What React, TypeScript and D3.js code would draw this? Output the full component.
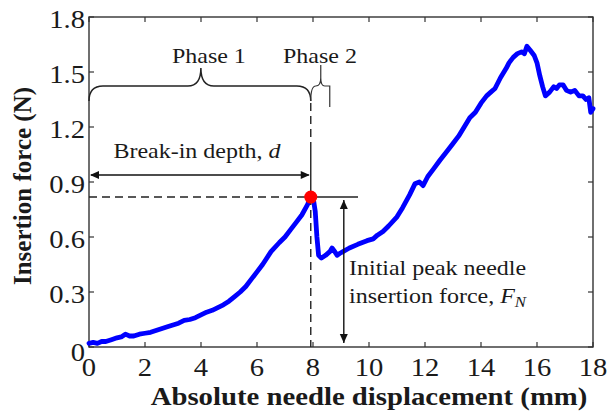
import React from 'react';
import * as d3 from 'd3';

const xValues = [0, 0.15, 0.3, 0.45, 0.6, 0.8, 1.0, 1.15, 1.3, 1.45, 1.6, 1.8, 2.0, 2.2, 2.5, 2.8, 3.0, 3.2, 3.4, 3.6, 3.8, 4.0, 4.2, 4.4, 4.6, 4.8, 5.0, 5.2, 5.4, 5.6, 5.8, 6.0, 6.2, 6.5, 6.8, 7.0, 7.2, 7.4, 7.6, 7.8, 7.92, 8.02, 8.08, 8.14, 8.2, 8.3, 8.45, 8.6, 8.68, 8.78, 8.86, 8.95, 9.07, 9.3, 9.6, 9.93, 10.15, 10.3, 10.5, 10.7, 11.0, 11.2, 11.45, 11.64, 11.8, 11.93, 12.1, 12.3, 12.54, 12.8, 13.0, 13.2, 13.4, 13.6, 13.8, 14.0, 14.2, 14.35, 14.5, 14.7, 14.9, 15.0, 15.15, 15.3, 15.45, 15.55, 15.64, 15.75, 15.9, 16.0, 16.1, 16.2, 16.3, 16.45, 16.6, 16.7, 16.8, 16.93, 17.05, 17.2, 17.35, 17.5, 17.64, 17.75, 17.85, 17.92, 18.0];
const yValues = [0.02, 0.025, 0.02, 0.03, 0.03, 0.04, 0.05, 0.055, 0.07, 0.06, 0.06, 0.07, 0.075, 0.08, 0.095, 0.11, 0.12, 0.13, 0.145, 0.15, 0.16, 0.175, 0.19, 0.2, 0.215, 0.23, 0.25, 0.275, 0.3, 0.33, 0.37, 0.41, 0.45, 0.52, 0.57, 0.6, 0.64, 0.68, 0.72, 0.775, 0.818, 0.8, 0.74, 0.6, 0.5, 0.485, 0.5, 0.52, 0.54, 0.52, 0.5, 0.51, 0.52, 0.54, 0.56, 0.58, 0.59, 0.61, 0.63, 0.66, 0.71, 0.76, 0.83, 0.89, 0.9, 0.88, 0.93, 0.97, 1.02, 1.07, 1.11, 1.15, 1.2, 1.25, 1.28, 1.33, 1.37, 1.39, 1.41, 1.47, 1.52, 1.55, 1.58, 1.6, 1.61, 1.6, 1.64, 1.62, 1.59, 1.55, 1.48, 1.42, 1.37, 1.39, 1.42, 1.41, 1.43, 1.43, 1.4, 1.39, 1.4, 1.37, 1.37, 1.35, 1.36, 1.28, 1.3];

const xTicks = [0, 2, 4, 6, 8, 10, 12, 14, 16, 18];
const yTicks = [0, 0.3, 0.6, 0.9, 1.2, 1.5, 1.8];
const yTickLabels = ['0', '0.3', '0.6', '0.9', '1.2', '1.5', '1.8'];
const peakX = 7.92;
const peakY = 0.818;
const xTitle = 'Absolute needle displacement (mm)';
const yTitle = 'Insertion force (N)';

const FONT = '"Liberation Serif", "Times New Roman", serif';

function T({ x, y, sx = 1.2, size = 20, anchor = 'start', weight = 'normal', rotate = 0, children }: any) {
  return (
    <text
      transform={`translate(${x},${y}) rotate(${rotate}) scale(${sx},1)`}
      fontSize={size}
      textAnchor={anchor}
      fontWeight={weight}
      fontFamily={FONT}
      fill="#1a1a1a"
    >
      {children}
    </text>
  );
}

function arrowHead(x: number, y: number, dir: 'l' | 'r' | 'u' | 'd') {
  const L = 9, W = 4;
  let pts: number[][] = [];
  if (dir === 'l') pts = [[x, y], [x + L, y - W], [x + L, y + W]];
  if (dir === 'r') pts = [[x, y], [x - L, y - W], [x - L, y + W]];
  if (dir === 'u') pts = [[x, y], [x - W, y + L], [x + W, y + L]];
  if (dir === 'd') pts = [[x, y], [x - W, y - L], [x + W, y - L]];
  return <polygon points={pts.map((p) => p.join(',')).join(' ')} fill="#111" />;
}

export default function App() {
  const x = d3.scaleLinear().domain([0, 18]).range([89, 593]);
  const y = d3.scaleLinear().domain([0, 1.8]).range([347, 17]);
  const data = xValues.map((v, i) => [v, yValues[i]] as [number, number]);
  const line = d3.line<[number, number]>().x((d) => x(d[0])).y((d) => y(d[1]));

  const px = x(peakX);
  const py = y(peakY);
  const x0 = x(0), x1 = x(18), y0 = y(0), y1 = y(1.8);
  const tl = 5;

  const braceTop = 86;
  const b1mid = (x0 + px) / 2 + 1;
  const brace1 = `M ${x0} 101 Q ${x0} ${braceTop} ${x0 + 14} ${braceTop} L ${b1mid - 13} ${braceTop} Q ${b1mid} ${braceTop} ${b1mid} 68 Q ${b1mid} ${braceTop} ${b1mid + 13} ${braceTop} L ${px - 14} ${braceTop} Q ${px} ${braceTop} ${px} 101`;
  const b2tip = px + 10;
  const b2right = px + 19;
  const brace2 = `M ${px} 101 Q ${px} ${braceTop} ${px + 5} ${braceTop} Q ${b2tip} ${braceTop} ${b2tip} 78 L ${b2tip} 65 M ${b2tip} 78 Q ${b2tip} ${braceTop} ${b2tip + 4} ${braceTop} L ${b2right} ${braceTop} L ${b2right} 107`;

  const arrowX = x(9.1);

  return (
    <svg width={607} height={414} style={{ position: 'absolute', left: 0, top: 0, background: '#fff' }}>
      {/* axes box */}
      <rect x={x0} y={y1} width={x1 - x0} height={y0 - y1} fill="none" stroke="#333" strokeWidth={1.4} />
      {xTicks.map((t) => (
        <g key={'xt' + t}>
          <line x1={x(t)} x2={x(t)} y1={y0} y2={y0 - tl} stroke="#333" strokeWidth={1.2} />
          <line x1={x(t)} x2={x(t)} y1={y1} y2={y1 + tl} stroke="#333" strokeWidth={1.2} />
          <T x={x(t)} y={376} size={26} sx={1.1} anchor="middle">{String(t)}</T>
        </g>
      ))}
      {yTicks.map((t, i) => (
        <g key={'yt' + t}>
          <line x1={x0} x2={x0 + tl} y1={y(t)} y2={y(t)} stroke="#333" strokeWidth={1.2} />
          <line x1={x1} x2={x1 - tl} y1={y(t)} y2={y(t)} stroke="#333" strokeWidth={1.2} />
          <T x={85} y={y(t) + 11 + (i === 0 ? 3 : 0)} size={26} sx={1.1} anchor="end">{yTickLabels[i]}</T>
        </g>
      ))}

      {/* titles */}
      <T x={369} y={405} size={25} sx={1.15} anchor="middle" weight="bold">{xTitle}</T>
      <T x={31} y={186} size={25} sx={1} anchor="middle" weight="bold" rotate={-90}>{yTitle}</T>

      {/* curve */}
      <path d={line(data) || ''} fill="none" stroke="#0000ff" strokeWidth={4.8} strokeLinejoin="round" strokeLinecap="round" />

      {/* dashed guides */}
      <line x1={x0} x2={px} y1={py} y2={py} stroke="#222" strokeWidth={1.4} strokeDasharray="8,5" />
      <line x1={px} x2={358} y1={py} y2={py} stroke="#222" strokeWidth={1.4} />
      <line x1={px} x2={px} y1={py} y2={y0} stroke="#222" strokeWidth={1.4} strokeDasharray="8,5" />
      <line x1={px} x2={px} y1={103} y2={143} stroke="#222" strokeWidth={1.4} strokeDasharray="8,5" />
      <line x1={px} x2={px} y1={143} y2={py} stroke="#222" strokeWidth={1.4} />

      {/* braces */}
      <path d={brace1} fill="none" stroke="#222" strokeWidth={1.5} />
      <path d={brace2} fill="none" stroke="#333" strokeWidth={1.2} />
      <T x={b1mid + 8} y={63} anchor="middle">Phase 1</T>
      <T x={320} y={63} anchor="middle">Phase 2</T>

      {/* break-in depth arrow */}
      <line x1={x0 + 2} x2={px - 2} y1={175} y2={175} stroke="#111" strokeWidth={1.4} />
      {arrowHead(x0 + 1, 175, 'l')}
      {arrowHead(px - 1, 175, 'r')}
      <T x={197} y={158} anchor="middle">Break-in depth, <tspan fontStyle="italic">d</tspan></T>

      {/* peak force arrow */}
      <line x1={arrowX} x2={arrowX} y1={py + 3} y2={y0 - 4} stroke="#111" strokeWidth={1.4} />
      {arrowHead(arrowX, py + 3, 'u')}
      {arrowHead(arrowX, y0 - 4, 'd')}
      <T x={349} y={275}>Initial peak needle</T>
      <T x={349} y={303}>
        insertion force, <tspan fontStyle="italic">F</tspan>
        <tspan fontStyle="italic" fontSize={14} dy={4}>N</tspan>
      </T>

      {/* peak dot */}
      <circle cx={px} cy={py} r={6.5} fill="#ff0000" />
    </svg>
  );
}
